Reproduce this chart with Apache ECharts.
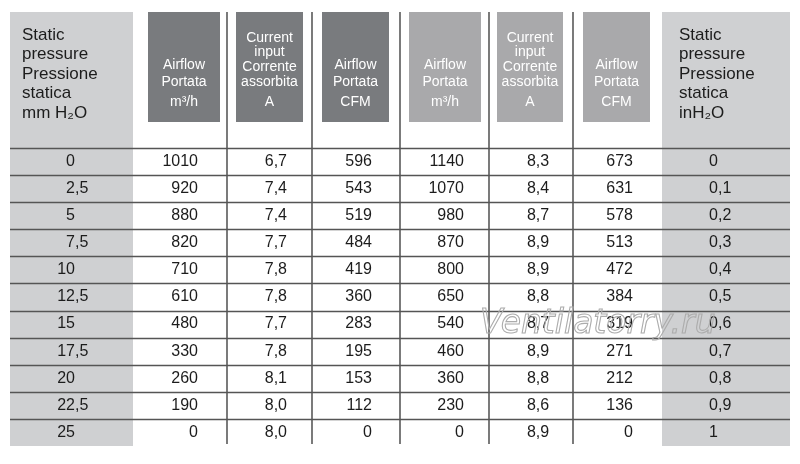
<!DOCTYPE html>
<html>
<head>
<meta charset="utf-8" />
<script src="https://cdn.jsdelivr.net/npm/echarts@6/dist/echarts.min.js"></script>
</head>
<body style="margin:0">
<div id="main" style="width:800px;height:464px"></div>
<script>
// rows: static pressure mm H2O
var pressureMm = ['0','2,5','5','7,5','10','12,5','15','17,5','20','22,5','25'];
// first fan
var airflowA = [1010,920,880,820,710,610,480,330,260,190,0];
var currentA = ['6,7','7,4','7,4','7,7','7,8','7,8','7,7','7,8','8,1','8,0','8,0'];
var cfmA = [596,543,519,484,419,360,283,195,153,112,0];
// second fan
var airflowB = [1140,1070,980,870,800,650,540,460,360,230,0];
var currentB = ['8,3','8,4','8,7','8,9','8,9','8,8','8,7','8,9','8,8','8,6','8,9'];
var cfmB = [673,631,578,513,472,384,319,271,212,136,0];
// static pressure inH2O
var pressureIn = ['0','0,1','0,2','0,3','0,4','0,5','0,6','0,7','0,8','0,9','1'];

var leftHeader = ['Static','pressure','Pressione','statica','mm H\u2082O'];
var rightHeader = ['Static','pressure','Pressione','statica','inH\u2082O'];
var colTitles = [
  ['Airflow','Portata'],
  ['Current','input','Corrente','assorbita'],
  ['Airflow','Portata'],
  ['Airflow','Portata'],
  ['Current','input','Corrente','assorbita'],
  ['Airflow','Portata']
];
var colUnits = ['m\u00b3/h','A','CFM','m\u00b3/h','A','CFM'];

var columns = [pressureMm, airflowA, currentA, cfmA, airflowB, currentB, cfmB, pressureIn];

// layout (pixels)
var tableLeft = 10, tableRight = 790, tableTop = 12, tableBottom = 446;
var sideCols = [[10,133],[662,790]];
var dividers = [227,312,400,489,573];
var boxes = [[148,220],[236,303],[322,389],[409,481],[497,563],[583,650]];
var boxColor = ['#797b7e','#797b7e','#797b7e','#a9a9ab','#a9a9ab','#a9a9ab'];
// anchor x and alignment of the numbers in each column
var anchors = [[75,'dec'],[198,'right'],[287,'right'],[372,'right'],[464,'right'],[538,'center'],[633,'right'],[718,'dec']];

var font = '"Liberation Sans", Arial, sans-serif';
var textColor = '#1c1c1c';

var graphics = [];
sideCols.forEach(function (s) {
  graphics.push({type:'rect', shape:{x:s[0], y:tableTop, width:s[1]-s[0], height:tableBottom-tableTop}, style:{fill:'#cfd0d2'}});
});
dividers.forEach(function (x) {
  graphics.push({type:'line', shape:{x1:x, y1:tableTop, x2:x, y2:tableBottom-2}, style:{stroke:'#222', lineWidth:1.2}});
});
boxes.forEach(function (b, i) {
  var cx = (b[0]+b[1])/2;
  graphics.push({type:'rect', shape:{x:b[0], y:tableTop, width:b[1]-b[0], height:110}, style:{fill:boxColor[i]}});
  var lines = colTitles[i];
  var step = lines.length > 2 ? 14.6 : 17;
  var y0 = lines.length > 2 ? 38 : 65;
  lines.forEach(function (t, k) {
    graphics.push({type:'text', style:{text:t, x:cx, y:y0+k*step, fill:'#fff', fontSize:14, fontFamily:font, align:'center', verticalAlign:'middle'}});
  });
  graphics.push({type:'text', style:{text:colUnits[i], x:cx, y:102, fill:'#fff', fontSize:14, fontFamily:font, align:'center', verticalAlign:'middle'}});
});
[[22,leftHeader],[679,rightHeader]].forEach(function (h) {
  h[1].forEach(function (t, k) {
    graphics.push({type:'text', style:{text:t, x:h[0], y:35+k*19.6, fill:textColor, fontSize:17, fontFamily:font, align:'left', verticalAlign:'middle'}});
  });
});
// watermark
graphics.push({type:'text', z:10, style:{text:'Ventilatorry.ru', x:480, y:324, fill:'transparent', stroke:'#acacac', lineWidth:1.1, fontSize:33, fontStyle:'italic', fontFamily:'"DejaVu Sans", sans-serif', align:'left', verticalAlign:'middle'}});

var cells = [];
pressureMm.forEach(function (p, r) {
  for (var c = 0; c < columns.length; c++) cells.push([c, r]);
});

function renderCell(params, api) {
  var c = api.value(0), r = api.value(1);
  var a = anchors[c];
  var pt = api.coord([a[0], r]);
  var band = api.size([0, 1])[1];
  var txt = String(columns[c][r]);
  var children = [];
  if (c === 0) {
    var y = Math.round(pt[1] - band/2) + 0.5;
    children.push({type:'line', shape:{x1:api.coord([tableLeft, r])[0], y1:y, x2:api.coord([tableRight, r])[0], y2:y}, style:{stroke:'#555', lineWidth:1.6}});
  }
  var base = {y:pt[1], fill:textColor, fontSize:16, fontFamily:font, verticalAlign:'middle'};
  if (a[1] === 'dec') {
    var parts = txt.split(',');
    children.push({type:'text', style:Object.assign({text:parts[0], x:pt[0], align:'right'}, base)});
    if (parts[1] !== undefined) {
      children.push({type:'text', style:Object.assign({text:','+parts[1], x:pt[0], align:'left'}, base)});
    }
  } else {
    children.push({type:'text', style:Object.assign({text:txt, x:pt[0], align:a[1]}, base)});
  }
  return {type:'group', children:children};
}

var chart = echarts.init(document.getElementById('main'));
chart.setOption({
  backgroundColor: '#fff',
  animation: false,
  graphic: graphics,
  grid: {left:0, right:0, top:148, bottom:464-tableBottom},
  xAxis: {type:'value', min:0, max:800, show:false},
  yAxis: {type:'category', data:pressureMm, inverse:true, show:false},
  series: [{
    type: 'custom',
    renderItem: renderCell,
    data: cells,
    silent: true
  }]
});
</script>
</body>
</html>
